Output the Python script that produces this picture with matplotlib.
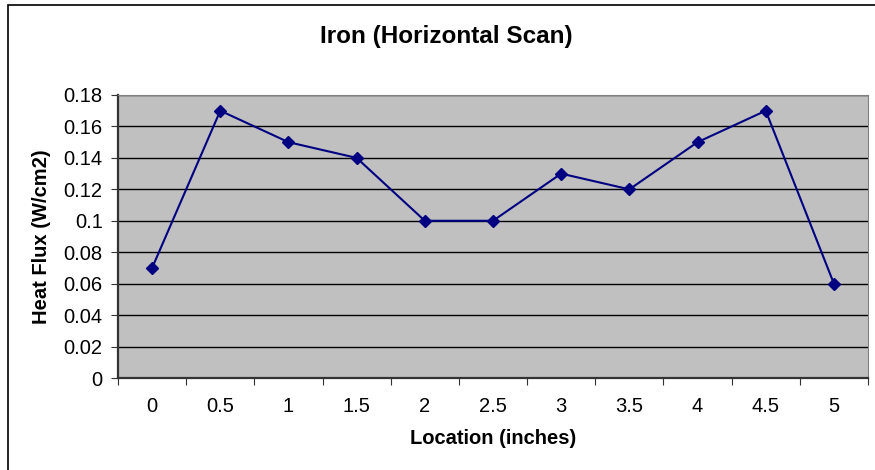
import matplotlib.pyplot as plt
from matplotlib.patches import Rectangle

plt.rcParams['font.family'] = ['Liberation Sans', 'DejaVu Sans']

locations = ['0', '0.5', '1', '1.5', '2', '2.5', '3', '3.5', '4', '4.5', '5']
heat_flux = [0.07, 0.17, 0.15, 0.14, 0.10, 0.10, 0.13, 0.12, 0.15, 0.17, 0.06]
y_ticks = [0, 0.02, 0.04, 0.06, 0.08, 0.1, 0.12, 0.14, 0.16, 0.18]
y_labels = ['0', '0.02', '0.04', '0.06', '0.08', '0.1', '0.12', '0.14', '0.16', '0.18']

fig = plt.figure(figsize=(8.75, 4.7), dpi=100)
# outer chart frame (only left/top edges visible in the reference)
fig.patches.append(Rectangle((8 / 875, -0.1), 1.2, 1.1 - 5 / 470,
                             transform=fig.transFigure, fill=False,
                             edgecolor='black', linewidth=1.2))

ax = fig.add_axes([118 / 875, 92 / 470, 750 / 875, 283 / 470])
ax.set_facecolor('#C0C0C0')

x = range(len(locations))
ax.plot(x, heat_flux, color='#000080', linewidth=1.5, marker='D',
        markersize=6.5, markerfacecolor='#000080', markeredgecolor='#000080', zorder=3)

ax.set_xlim(-0.5, len(locations) - 0.5)
ax.set_ylim(0, 0.18)
ax.set_yticks(y_ticks)
ax.set_yticklabels(y_labels)
ax.yaxis.grid(True, color='black', linewidth=1)
ax.set_axisbelow(True)

ax.set_xticks([i - 0.5 for i in range(len(locations) + 1)])
ax.set_xticklabels([])
ax.set_xticks(list(x), minor=True)
ax.set_xticklabels(locations, minor=True)
ax.tick_params(axis='x', which='minor', length=0, pad=14, labelsize=14.5)
ax.tick_params(axis='x', which='major', length=5, direction='out', color='#333333')
ax.tick_params(axis='y', length=5, direction='out', labelsize=14.5, pad=6, color='#333333')

for side in ['top', 'right']:
    ax.spines[side].set_color('#808080')
for side in ['left', 'bottom']:
    ax.spines[side].set_color('#333333')
    ax.spines[side].set_linewidth(1.6)

fig.text(446 / 875, 1 - 37 / 470, 'Iron (Horizontal Scan)', fontsize=17.5,
         fontweight='bold', ha='center', va='center')
ax.set_xlabel('Location (inches)', fontsize=14.5, fontweight='bold', labelpad=9)
ax.set_ylabel('Heat Flux (W/cm2)', fontsize=14.5, fontweight='bold', labelpad=9)

fig.savefig('out.png', dpi=100)
